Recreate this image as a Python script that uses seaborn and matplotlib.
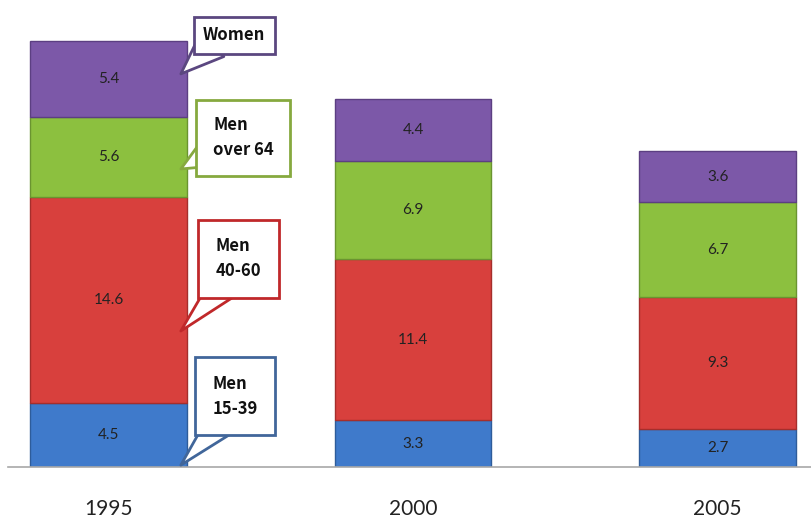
import matplotlib
matplotlib.use("Agg")
import matplotlib.pyplot as plt
import seaborn as sns
import numpy as np

years = ["1995", "2000", "2005"]
men_15_39 = [4.5, 3.3, 2.7]
men_40_60 = [14.6, 11.4, 9.3]
men_over_64 = [5.6, 6.9, 6.7]
women = [5.4, 4.4, 3.6]

series_names = ["Men\n15-39", "Men\n40-60", "Men\nover 64", "Women"]
series_values = [men_15_39, men_40_60, men_over_64, women]
fill_colors = ["#3F7ACB", "#D8403D", "#8CC03F", "#7C58A8"]
edge_colors = ["#2E5C9A", "#A52E2C", "#6A9430", "#5C3F82"]
callout_edges = ["#41669A", "#C0282A", "#86A93F", "#5B4780"]

sns.set_theme(style="white")
fig = plt.figure(figsize=(8.12, 5.19), dpi=100)
ax = fig.add_axes([8/812, 52/519, 804/812, 467/519])

bottom = np.zeros(len(years))
containers = []
for name, vals, fc, ec in zip(series_names, series_values, fill_colors, edge_colors):
    sns.barplot(x=years, y=vals, bottom=bottom.copy(), color=fc, width=0.515,
                edgecolor=ec, linewidth=1.0, saturation=1, ax=ax)
    containers.append(ax.containers[-1])
    bottom += np.array(vals)

for c in containers:
    ax.bar_label(c, labels=[f"{v.get_height():.1f}" for v in c], label_type="center",
                 fontsize=11, color="#222222", family="Lato")

ax.set_xlim(-0.33, 2.31)
ax.set_ylim(0, 33)
ax.set_yticks([])
ax.set_xlabel("")
ax.set_ylabel("")
for s in ["top", "right", "left"]:
    ax.spines[s].set_visible(False)
ax.spines["bottom"].set_color("#A8A8A8")
ax.spines["bottom"].set_linewidth(1.2)
ax.tick_params(axis="x", length=0, pad=23, labelsize=15, labelcolor="#222222")
for t in ax.get_xticklabels():
    t.set_family("Lato")

# callouts for 1995 bar
right_edge = 0 + 0.515 / 2
cum = np.concatenate([[0], np.cumsum([v[0] for v in series_values])])
text_pos = [(0.416, 5.0), (0.426, 14.7), (0.443, 23.25), (0.413, 30.5)]
tip_frac = [0.03, 0.35, 0.35, 0.57]
relpos = [(0.3, 0.0), (0.3, 0.0), (0.0, 0.2), (0.15, 0.0)]
pads = [1.05, 1.05, 1.0, 0.55]
for i, name in enumerate(series_names):
    y_tip = cum[i] + tip_frac[i] * (cum[i + 1] - cum[i])
    ax.annotate(name, xy=(right_edge - 0.02, y_tip), xytext=text_pos[i],
                ha="center", va="center", fontsize=12, fontweight="bold",
                family=["Noto Sans CJK JP", "DejaVu Sans"], color="#111111",
                multialignment="left", linespacing=1.5,
                bbox=dict(boxstyle=f"square,pad={pads[i]}", fc="white",
                          ec=callout_edges[i], lw=2),
                arrowprops=dict(arrowstyle="wedge,tail_width=1.2,shrink_factor=0.5",
                                mutation_scale=20,
                                fc="white", ec=callout_edges[i], lw=2,
                                relpos=relpos[i], shrinkA=0, shrinkB=0,
                                patchA=None))

fig.savefig("out.png", dpi=100)
